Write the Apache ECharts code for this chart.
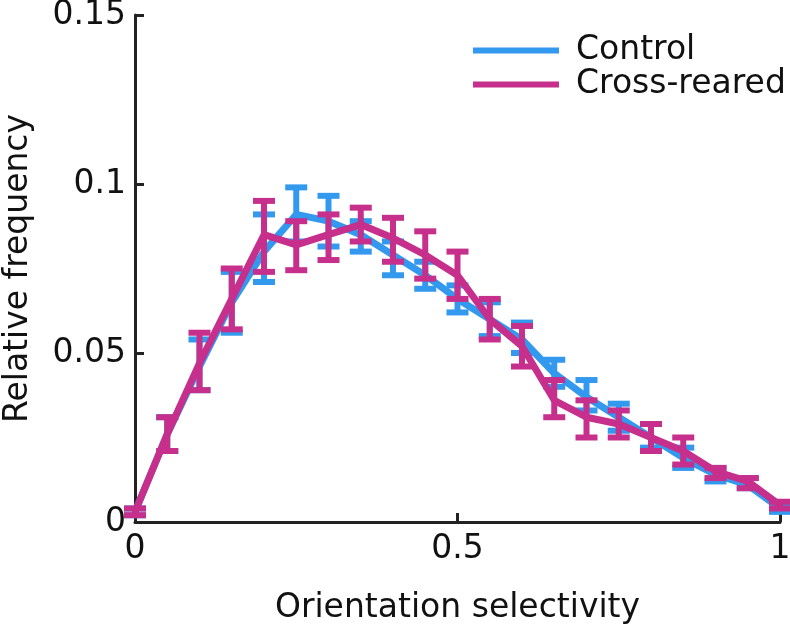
<!DOCTYPE html>
<html>
<head>
<meta charset="utf-8">
<script src="https://cdn.jsdelivr.net/npm/echarts@6/dist/echarts.min.js"></script>
<style>html,body{margin:0;padding:0;background:#fff}#c{width:790px;height:629px}</style>
</head>
<body>
<div id="c"></div>
<script>
const xValues = [0,0.05,0.1,0.15,0.2,0.25,0.3,0.35,0.4,0.45,0.5,0.55,0.6,0.65,0.7,0.75,0.8,0.85,0.9,0.95,1];
const controlMean = [0.003,0.026,0.046,0.065,0.080,0.091,0.089,0.085,0.079,0.073,0.066,0.060,0.054,0.044,0.037,0.031,0.025,0.019,0.014,0.011,0.004];
const controlHigh = [0.004,0.031,0.054,0.074,0.091,0.099,0.0965,0.089,0.083,0.077,0.070,0.065,0.059,0.048,0.042,0.035,0.029,0.022,0.016,0.013,0.005];
const controlLow  = [0.002,0.021,0.039,0.056,0.071,0.083,0.0815,0.080,0.073,0.069,0.062,0.055,0.050,0.040,0.033,0.027,0.022,0.016,0.012,0.010,0.003];
const crossMean = [0.003,0.026,0.047,0.066,0.085,0.082,0.085,0.088,0.084,0.079,0.073,0.060,0.052,0.036,0.031,0.029,0.025,0.021,0.015,0.012,0.005];
const crossHigh = [0.004,0.031,0.056,0.075,0.095,0.089,0.091,0.093,0.090,0.086,0.080,0.066,0.058,0.042,0.036,0.033,0.029,0.025,0.016,0.013,0.006];
const crossLow  = [0.002,0.021,0.039,0.057,0.074,0.0745,0.0775,0.083,0.077,0.072,0.066,0.054,0.046,0.031,0.025,0.025,0.021,0.017,0.013,0.010,0.004];
const yTicks = [0,0.05,0.1,0.15];
const seriesNames = ['Control','Cross-reared'];
const colors = ['#3399ee','#c62f8b'];

function pairs(ys){ return xValues.map((x,i)=>[x,ys[i]]); }
function errData(lo,hi){ return xValues.map((x,i)=>[x,lo[i],hi[i]]); }
function errSeries(name,color,lo,hi,z){
  return {
    type:'custom', name:name, z:z, silent:true,
    data: errData(lo,hi),
    renderItem: function(params, api){
      const x = api.value(0);
      const p1 = api.coord([x, api.value(1)]);
      const p2 = api.coord([x, api.value(2)]);
      const hw = 11;
      const st = {stroke:color, lineWidth:6, fill:null};
      return {type:'group', children:[
        {type:'line', shape:{x1:p1[0],y1:p1[1],x2:p2[0],y2:p2[1]}, style:st},
        {type:'line', shape:{x1:p1[0]-hw,y1:p1[1],x2:p1[0]+hw,y2:p1[1]}, style:st},
        {type:'line', shape:{x1:p2[0]-hw,y1:p2[1],x2:p2[0]+hw,y2:p2[1]}, style:st}
      ]};
    }
  };
}
const chart = echarts.init(document.getElementById('c'));
const font = 'DejaVu Sans';
chart.setOption({
  animation:false,
  textStyle:{fontFamily:font},
  grid:{left:135,right:10,top:15,bottom:107,containLabel:false,outerBoundsMode:'none'},
  legend:{
    orient:'vertical', left:468, top:29, itemWidth:86, itemHeight:6, itemGap:1,
    textStyle:{fontSize:33, color:'#111', fontFamily:font, padding:[0,0,0,12]},
    data:[{name:seriesNames[0], icon:'rect', itemStyle:{color:colors[0]}},{name:seriesNames[1], icon:'rect', itemStyle:{color:colors[1]}}]
  },
  xAxis:{
    type:'value', min:0, max:1, interval:0.5,
    name:'Orientation selectivity', nameLocation:'middle', nameGap:70,
    nameTextStyle:{fontSize:33,color:'#111',fontFamily:font},
    axisLine:{lineStyle:{color:'#222',width:3}},
    axisTick:{inside:true,length:9,lineStyle:{color:'#222',width:3}},
    axisLabel:{fontSize:33,color:'#111',margin:11,fontFamily:font},
    splitLine:{show:false}
  },
  yAxis:{
    type:'value', min:yTicks[0], max:yTicks[yTicks.length-1], interval:0.05,
    name:'Relative frequency', nameLocation:'middle', nameGap:100, nameRotate:90,
    nameTextStyle:{fontSize:33,color:'#111',fontFamily:font},
    axisLine:{show:true,lineStyle:{color:'#222',width:3}},
    axisTick:{show:true,inside:true,length:9,lineStyle:{color:'#222',width:3}},
    axisLabel:{fontSize:33,color:'#111',margin:9,fontFamily:font,
      formatter:function(v){ return String(+v.toFixed(2)); }},
    splitLine:{show:false}
  },
  series:[
    {type:'line', name:seriesNames[0], data:pairs(controlMean), showSymbol:false, symbol:'none', z:2,
      lineStyle:{color:colors[0],width:7}, itemStyle:{color:colors[0]}},
    errSeries(seriesNames[0], colors[0], controlLow, controlHigh, 3),
    {type:'line', name:seriesNames[1], data:pairs(crossMean), showSymbol:false, symbol:'none', z:4,
      lineStyle:{color:colors[1],width:7}, itemStyle:{color:colors[1]}},
    errSeries(seriesNames[1], colors[1], crossLow, crossHigh, 5)
  ]
});
</script>
</body>
</html>
